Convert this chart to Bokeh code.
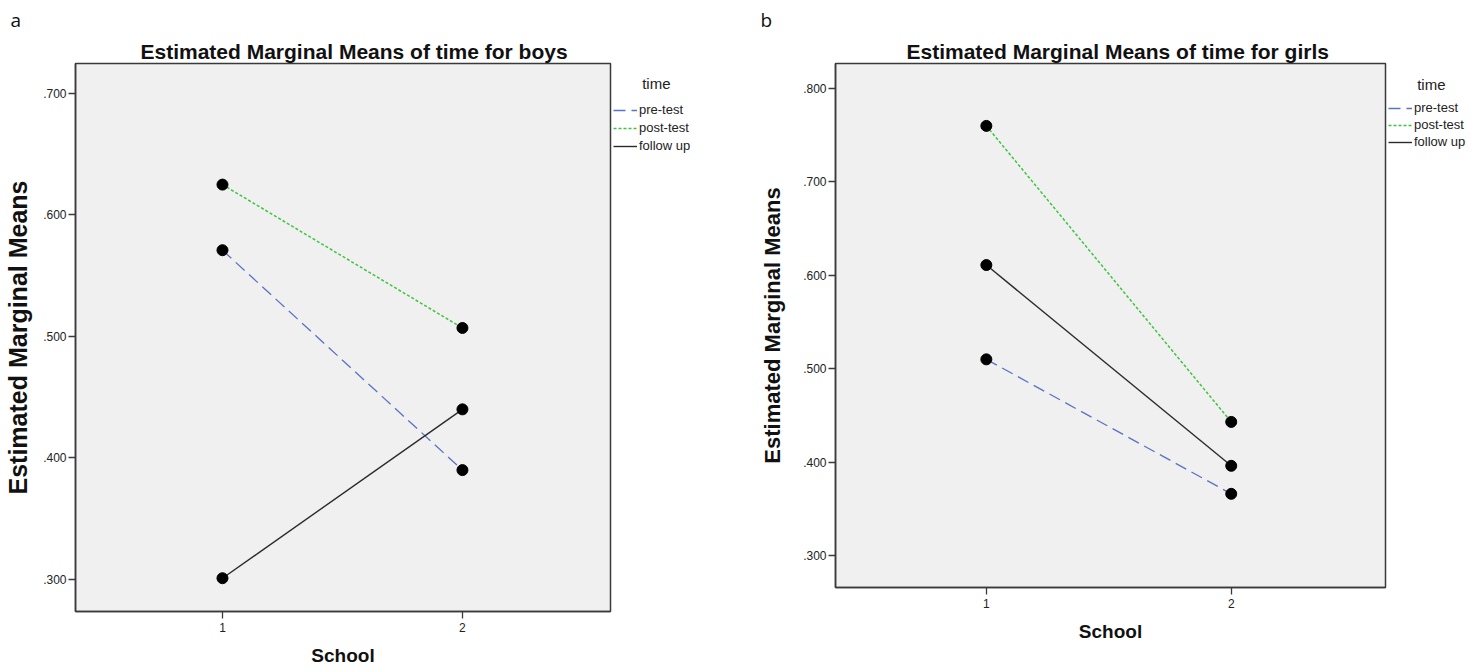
from bokeh.plotting import figure
from bokeh.layouts import row
from bokeh.models import Range1d, FixedTicker, CustomJSTickFormatter, Legend, LegendItem, Title
from bokeh.embed import file_html
from bokeh.resources import INLINE

# ---- data ----
schools = [1, 2]
series_names = ["pre-test", "post-test", "follow up"]
boys_pre = [0.571, 0.390]
boys_post = [0.625, 0.507]
boys_follow = [0.301, 0.440]
girls_pre = [0.510, 0.366]
girls_post = [0.760, 0.443]
girls_follow = [0.611, 0.396]
boys_yticks = [0.3, 0.4, 0.5, 0.6, 0.7]
girls_yticks = [0.3, 0.4, 0.5, 0.6, 0.7, 0.8]
x_ticks = [1, 2]

FONT = "Liberation Sans"
styles = [
    dict(color="#5a72c4", dash="12 6", width=1.3),
    dict(color="#3ec43e", dash="3 2", width=1.5),
    dict(color="#2a2a2a", dash="solid", width=1.4),
]
TOP, BOTTOM = 63, 54


def panel(title, title_off, series, yticks, yr, xr, width, height, border_left, letter, letter_off,
          ylab_size, ylab_standoff):
    p = figure(width=width, height=height, output_backend="svg", toolbar_location=None,
               x_range=Range1d(*xr), y_range=Range1d(*yr),
               min_border_left=border_left, min_border_right=2,
               min_border_top=TOP, min_border_bottom=BOTTOM)
    p.border_fill_color = "white"
    p.background_fill_color = "#f0f0f0"
    p.outline_line_color = "#3a3a3a"
    p.outline_line_width = 1.5
    p.grid.visible = False

    p.add_layout(Title(text=title, text_font=FONT, text_font_size="21px", text_font_style="bold",
                       align="left", offset=title_off, standoff=2, text_color="#111111"), "above")
    p.add_layout(Title(text=letter, text_font="Open Sans", text_font_size="19px", text_font_style="normal",
                       align="left", offset=letter_off, standoff=8, text_color="#111111"), "above")

    for ax in (p.xaxis[0], p.yaxis[0]):
        ax.axis_line_color = "#3a3a3a"
        ax.axis_line_width = 1.5
        ax.major_tick_line_color = "#3a3a3a"
        ax.major_tick_line_width = 1.3
        ax.major_tick_in = 0
        ax.major_tick_out = 7
        ax.minor_tick_line_color = None
        ax.major_label_text_font = FONT
        ax.major_label_text_font_size = "12px"
        ax.major_label_text_color = "#222222"
        ax.axis_label_text_font = FONT
        ax.axis_label_text_font_style = "bold"
        ax.axis_label_text_color = "#111111"

    p.xaxis.ticker = FixedTicker(ticks=x_ticks)
    p.xaxis.axis_label = "School"
    p.xaxis.axis_label_text_font_size = "19px"
    p.xaxis.major_label_standoff = 4
    p.xaxis.axis_label_standoff = 10
    p.yaxis.ticker = FixedTicker(ticks=yticks)
    p.yaxis.formatter = CustomJSTickFormatter(code="return tick.toFixed(3).replace(/^0/, '');")
    p.yaxis.axis_label = "Estimated Marginal Means"
    p.yaxis.axis_label_text_font_size = ylab_size
    p.yaxis.major_label_standoff = 2
    p.yaxis.axis_label_standoff = ylab_standoff

    for ys, st in zip(series, styles):
        p.line(schools, ys, line_color=st["color"], line_dash=st["dash"], line_width=st["width"])
    for ys in series:
        p.scatter(schools, ys, size=11, marker="circle", fill_color="black", line_color="black")
    return p


def legend_panel(series, width, height, loc, spacing, title_standoff):
    # legend-only strip: its lines lie outside its ranges, only the legend glyphs show
    q = figure(width=width, height=height, output_backend="svg", toolbar_location=None,
               x_range=Range1d(-3, -2), y_range=Range1d(-3, -2),
               x_axis_location=None, y_axis_location=None,
               min_border_left=0, min_border_right=0, min_border_top=TOP, min_border_bottom=BOTTOM)
    q.outline_line_color = None
    q.background_fill_color = "white"
    q.border_fill_color = "white"
    q.grid.visible = False
    items = []
    for name, ys, st in zip(series_names, series, styles):
        r = q.line(schools, ys, line_color=st["color"], line_dash=st["dash"], line_width=st["width"])
        items.append(LegendItem(label=name, renderers=[r]))
    leg = Legend(items=items, location=loc)
    leg.title = "\u00a0" * 7 + "time"
    leg.title_text_font = FONT
    leg.title_text_font_size = "15px"
    leg.title_text_font_style = "normal"
    leg.title_text_color = "#222222"
    leg.title_standoff = title_standoff
    leg.background_fill_alpha = 0
    leg.border_line_color = None
    leg.label_text_font = FONT
    leg.label_text_font_size = "13px"
    leg.label_text_color = "#222222"
    leg.glyph_width = 24
    leg.glyph_height = 14
    leg.label_height = 14
    leg.spacing = spacing
    leg.padding = 0
    leg.margin = 0
    leg.label_standoff = 2
    q.add_layout(leg, "center")
    return q


H1, H2 = 668, 644
boys = [boys_pre, boys_post, boys_follow]
girls = [girls_pre, girls_post, girls_follow]
p1 = panel("Estimated Marginal Means of time for boys", 65, boys,
           boys_yticks, (0.2736, 0.7247), (0.3875, 2.617), 612, H1, 75, "a", -65, "25px", 8)
l1 = legend_panel(boys, 136, H1, (1, 458), 3, 10)
p2 = panel("Estimated Marginal Means of time for girls", 71, girls,
           girls_yticks, (0.2657, 0.8268), (0.384, 2.63), 639, H2, 87, "b", -75, "22px", 15)
l2 = legend_panel(girls, 83, H2, (1, 438), 2, 7)

layout = row(p1, l1, p2, l2)
layout.spacing = 0
open("out.html", "w").write(file_html(layout, INLINE))
